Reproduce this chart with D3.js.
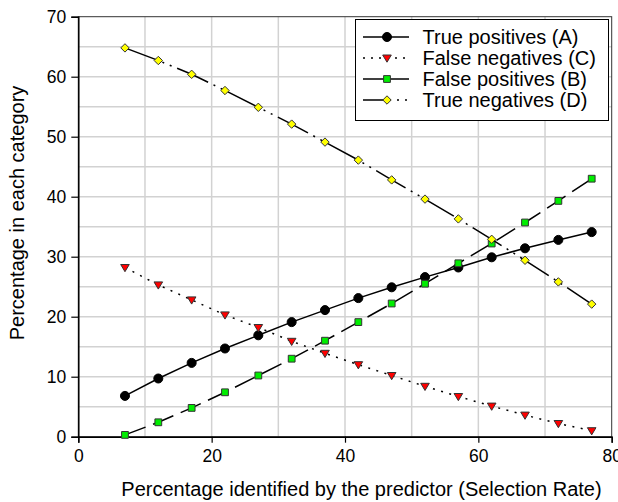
<!DOCTYPE html>
<html>
<head>
<meta charset="utf-8">
<script src="https://cdn.jsdelivr.net/npm/d3@7"></script>
<style>
	body { margin:0; background:#fff; }
	text { font-family: "Liberation Sans", Arial, sans-serif; }
</style>
</head>
<body>
<div id="chart-area"></div>
<script>

var selectionRate = [7, 12, 17, 22, 27, 32, 37, 42, 47, 52, 57, 62, 67, 72, 77];
var truePositives = [6.8, 9.7, 12.3, 14.7, 16.9, 19.1, 21.1, 23.1, 24.9, 26.6, 28.2, 29.9, 31.4, 32.8, 34.1];
var falseNegatives = [28.2, 25.3, 22.8, 20.3, 18.2, 15.9, 13.9, 12.0, 10.2, 8.4, 6.7, 5.1, 3.6, 2.2, 1.0];
var falsePositives = [0.3, 2.4, 4.8, 7.4, 10.2, 13.0, 16.0, 19.1, 22.2, 25.5, 28.9, 32.2, 35.7, 39.3, 43.0];
var trueNegatives = [64.8, 62.7, 60.4, 57.7, 54.9, 52.1, 49.1, 46.1, 42.8, 39.6, 36.3, 32.9, 29.4, 25.8, 22.1];
var seriesNames = ["True positives (A)", "False negatives (C)", "False positives (B)", "True negatives (D)"];
var xTicks = [0, 20, 40, 60, 80];
var yTicks = [0, 10, 20, 30, 40, 50, 60, 70];

var margin = {left:78.3, right:6.3, top:16.7, bottom:65.3};
var width = 618 - margin.left - margin.right;
var height = 502 - margin.top - margin.bottom;

var svg = d3.select("#chart-area")
	.append("svg")
		.attr("width", 618)
		.attr("height", 502);

var g = svg.append("g")
	.attr("transform", "translate(" + margin.left + "," + margin.top + ")");

var x = d3.scaleLinear().domain([0, 80]).range([0, width]);
var y = d3.scaleLinear().domain([0, 70]).range([height, 0]);

// gridlines
g.append("g").selectAll("line")
	.data(d3.range(10, 80, 10))
	.enter().append("line")
		.attr("x1", d => x(d)).attr("x2", d => x(d))
		.attr("y1", 0).attr("y2", height)
		.attr("stroke", "#d2d2d2")
		.attr("stroke-width", 1.5);
g.append("g").selectAll("line")
	.data(d3.range(5, 70, 5))
	.enter().append("line")
		.attr("y1", d => y(d)).attr("y2", d => y(d))
		.attr("x1", 0).attr("x2", width)
		.attr("stroke", "#d2d2d2")
		.attr("stroke-width", 1.5);

// frame
g.append("rect")
	.attr("width", width).attr("height", height)
	.attr("fill", "none")
	.attr("stroke", "#333")
	.attr("stroke-width", 1);

var xAxis = d3.axisBottom(x).tickValues(xTicks).tickSize(6).tickPadding(7);
var yAxis = d3.axisLeft(y).tickValues(yTicks).tickSize(7).tickPadding(5);

var gx = g.append("g").attr("transform", "translate(0," + height + ")").call(xAxis);
var gy = g.append("g").call(yAxis);
[gx, gy].forEach(function(a){
	a.select(".domain").attr("stroke", "#000").attr("stroke-width", 1.5);
	a.selectAll(".tick line").attr("stroke", "#000").attr("stroke-width", 1.2);
	a.selectAll(".tick text")
		.attr("font-size", "17.5px")
		.attr("font-family", "Liberation Sans, Arial, sans-serif")
		.attr("fill", "#000");
});

// axis titles
svg.append("text")
	.attr("x", 361.5)
	.attr("y", 496)
	.attr("text-anchor", "middle")
	.attr("font-size", "20px")
	.text("Percentage identified by the predictor (Selection Rate)");

svg.append("text")
	.attr("transform", "translate(23.5,213) rotate(-90)")
	.attr("text-anchor", "middle")
	.attr("font-size", "20px")
	.text("Percentage in each category");

var styles = [
	{values: truePositives, dash: null, marker: "circle", fill: "#000", size: 64},
	{values: falseNegatives, dash: "2,6.5", marker: "triangle", fill: "#ff0000", size: 34},
	{values: falsePositives, dash: "22,8", marker: "square", fill: "#00ee00", size: 46},
	{values: trueNegatives, dash: "34,6,2,6,2,6", marker: "diamond", fill: "#ffff00", size: 40}
];

function markerPath(s){
	if (s.marker == "circle") return d3.symbol().type(d3.symbolCircle).size(s.size)();
	if (s.marker == "square") return d3.symbol().type(d3.symbolSquare).size(s.size)();
	if (s.marker == "diamond") return "M0,-4.2L4.2,0L0,4.2L-4.2,0Z";
	return "M-4.3,-3L4.3,-3L0,4.2Z";
}

var line = d3.line()
	.x((d, i) => x(selectionRate[i]))
	.y(d => y(d));

styles.forEach(function(s){
	g.append("path")
		.datum(s.values)
		.attr("d", line)
		.attr("fill", "none")
		.attr("stroke", "#000")
		.attr("stroke-width", 1.5)
		.attr("stroke-dasharray", s.dash);

	g.selectAll(null)
		.data(s.values)
		.enter().append("path")
			.attr("transform", (d, i) => "translate(" + x(selectionRate[i]) + "," + y(d) + ")")
			.attr("d", markerPath(s))
			.attr("fill", s.fill)
			.attr("stroke", s.marker == "circle" ? "#000" : "#333")
			.attr("stroke-width", 1);
});

// legend
var legend = svg.append("g");
legend.append("rect")
	.attr("x", 355.5).attr("y", 19.5)
	.attr("width", 253).attr("height", 101)
	.attr("fill", "#fff")
	.attr("stroke", "#000")
	.attr("stroke-width", 1);

styles.forEach(function(s, i){
	var ly = 37 + i * 21;
	legend.append("line")
		.attr("x1", 363).attr("x2", 409)
		.attr("y1", ly).attr("y2", ly)
		.attr("stroke", "#000")
		.attr("stroke-width", 1.5)
		.attr("stroke-dasharray", i == 1 ? "2,6" : i == 3 ? "28,6,2,6,2,6" : null);
	legend.append("path")
		.attr("transform", "translate(387," + ly + ")")
		.attr("d", markerPath(s))
		.attr("fill", s.fill)
		.attr("stroke", s.marker == "circle" ? "#000" : "#333")
		.attr("stroke-width", 1);
	legend.append("text")
		.attr("x", 422.5)
		.attr("y", ly + 7)
		.attr("font-size", "20px")
		.text(seriesNames[i]);
});

</script>
</body>
</html>
